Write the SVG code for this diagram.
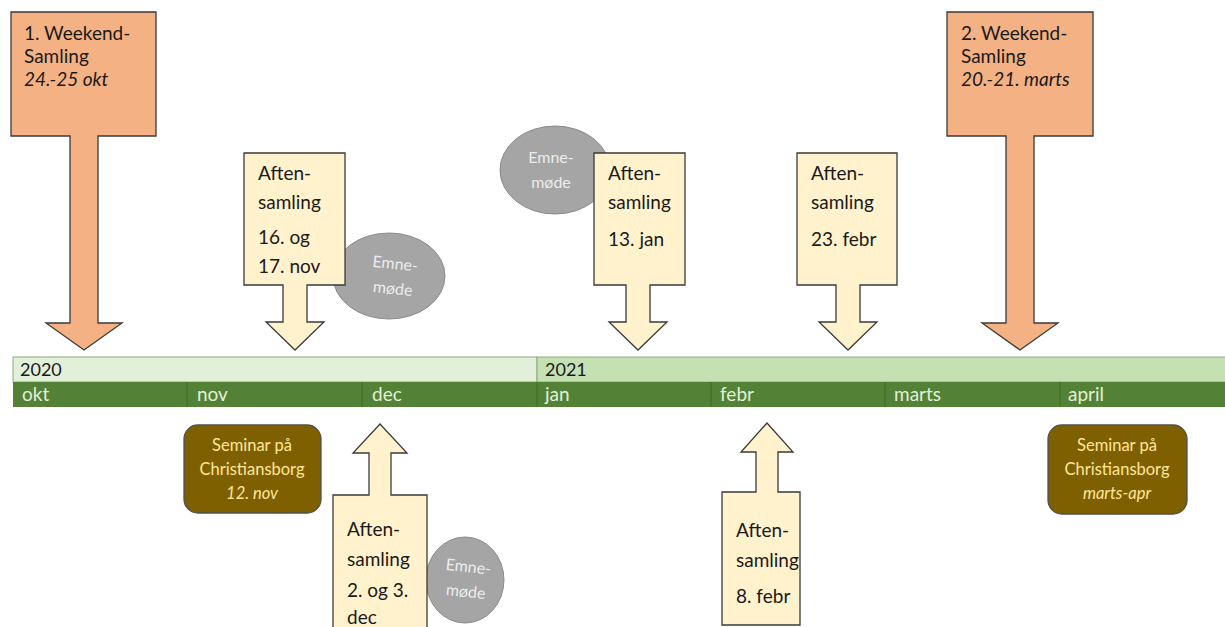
<svg xmlns="http://www.w3.org/2000/svg" width="1225" height="627" viewBox="0 0 1225 627">
<style>
  text { font-family: Lato, "Open Sans", "Liberation Sans", sans-serif; }
  .wk { fill: #f4b183; stroke: #3a3a3a; stroke-width: 1.3; }
  .af { fill: #fff2cc; stroke: #3a3a3a; stroke-width: 1.3; }
  .em { fill: #a5a5a5; stroke: #8a8a8a; stroke-width: 1; }
  .sem { fill: #7f6000; stroke: #505050; stroke-width: 1.3; }
  .t { font-size: 19px; fill: #1a1a1a; }
  .it { font-style: italic; }
  .et { font-size: 16px; fill: #ececec; text-anchor: middle; }
  .st { font-size: 16.5px; fill: #ffe699; text-anchor: middle; }
  .yr { font-size: 18px; fill: #1a1a1a; }
  .mo { font-size: 19px; fill: #e2efd9; }
</style>

<g id="timeline">
  <rect x="13" y="357" width="524" height="25" fill="#e2efd9" stroke="#8faa7c" stroke-width="1"/>
  <rect x="537" y="357" width="690" height="25" fill="#c5e0b3" stroke="#8faa7c" stroke-width="1"/>
  <rect x="13" y="382" width="1214" height="25" fill="#538135"/>
  <g stroke="#3f6a28" stroke-width="1">
    <line x1="187" y1="382" x2="187" y2="407"/>
    <line x1="362" y1="382" x2="362" y2="407"/>
    <line x1="537" y1="382" x2="537" y2="407"/>
    <line x1="711" y1="382" x2="711" y2="407"/>
    <line x1="885" y1="382" x2="885" y2="407"/>
    <line x1="1060" y1="382" x2="1060" y2="407"/>
  </g>
  <text class="yr" x="20" y="376">2020</text>
  <text class="yr" x="545" y="376">2021</text>
  <text class="mo" x="22" y="401">okt</text>
  <text class="mo" x="197" y="401">nov</text>
  <text class="mo" x="372" y="401">dec</text>
  <text class="mo" x="545" y="401">jan</text>
  <text class="mo" x="720" y="401">febr</text>
  <text class="mo" x="894" y="401">marts</text>
  <text class="mo" x="1068" y="401">april</text>
</g>

<g id="emne-nov">
  <ellipse class="em" cx="389" cy="276" rx="56" ry="43"/>
  <g transform="rotate(6 392 276)">
    <text class="et" x="394" y="269">Emne-</text>
    <text class="et" x="394" y="294">møde</text>
  </g>
</g>
<g id="emne-jan">
  <ellipse class="em" cx="555" cy="170" rx="55" ry="44"/>
  <text class="et" x="551" y="163">Emne-</text>
  <text class="et" x="551" y="188">møde</text>
</g>
<g id="emne-dec">
  <ellipse class="em" cx="465" cy="580" rx="39" ry="43"/>
  <g transform="rotate(6 465 580)">
    <text class="et" x="467" y="572">Emne-</text>
    <text class="et" x="467" y="597">møde</text>
  </g>
</g>

<g id="weekend1">
  <polygon class="wk" points="11,12 156,12 156,136 98,136 98,323 122,323 84,350 46,323 70,323 70,136 11,136"/>
  <text class="t" x="24" y="40">1. Weekend-</text>
  <text class="t" x="24" y="63">Samling</text>
  <text class="t it" x="24" y="86">24.-25 okt</text>
</g>

<g id="weekend2">
  <polygon class="wk" points="947,12 1093,12 1093,136 1034,136 1034,323 1058,323 1020,350 982,323 1006,323 1006,136 947,136"/>
  <text class="t" x="961" y="40">2. Weekend-</text>
  <text class="t" x="961" y="63">Samling</text>
  <text class="t it" x="961" y="86">20.-21. marts</text>
</g>

<g id="aften-nov">
  <polygon class="af" points="244,153 345,153 345,285 307,285 307,322 324,322 295,350 266,322 283,322 283,285 244,285"/>
  <text class="t" x="258" y="180">Aften-</text>
  <text class="t" x="258" y="209">samling</text>
  <text class="t" x="258" y="244">16. og</text>
  <text class="t" x="258" y="273">17. nov</text>
</g>

<g id="aften-jan">
  <polygon class="af" points="594,153 685,153 685,285 650,285 650,322 667,322 638,350 609,322 626,322 626,285 594,285"/>
  <text class="t" x="608" y="180">Aften-</text>
  <text class="t" x="608" y="209">samling</text>
  <text class="t" x="608" y="246">13. jan</text>
</g>

<g id="aften-febr23">
  <polygon class="af" points="797,153 897,153 897,285 860,285 860,322 877,322 848,350 819,322 836,322 836,285 797,285"/>
  <text class="t" x="811" y="180">Aften-</text>
  <text class="t" x="811" y="209">samling</text>
  <text class="t" x="811" y="246">23. febr</text>
</g>

<g id="aften-dec">
  <polygon class="af" points="380,424 407,453 391,453 391,495 427,495 427,640 333,640 333,495 369,495 369,453 353,453"/>
  <text class="t" x="347" y="536">Aften-</text>
  <text class="t" x="347" y="566">samling</text>
  <text class="t" x="347" y="597">2. og 3.</text>
  <text class="t" x="347" y="624">dec</text>
</g>

<g id="aften-febr8">
  <polygon class="af" points="767,423 793,452 778,452 778,492 800,492 800,625 722,625 722,492 756,492 756,452 741,452"/>
  <text class="t" x="736" y="537">Aften-</text>
  <text class="t" x="736" y="567">samling</text>
  <text class="t" x="736" y="603">8. febr</text>
</g>

<g id="seminar-nov">
  <rect class="sem" x="184" y="425" width="137" height="88" rx="14"/>
  <text class="st" x="252" y="451">Seminar på</text>
  <text class="st" x="252" y="475">Christiansborg</text>
  <text class="st it" x="252" y="499">12. nov</text>
</g>

<g id="seminar-apr">
  <rect class="sem" x="1048" y="425" width="139" height="89" rx="14"/>
  <text class="st" x="1117" y="451">Seminar på</text>
  <text class="st" x="1117" y="475">Christiansborg</text>
  <text class="st it" x="1117" y="499">marts-apr</text>
</g>
</svg>
